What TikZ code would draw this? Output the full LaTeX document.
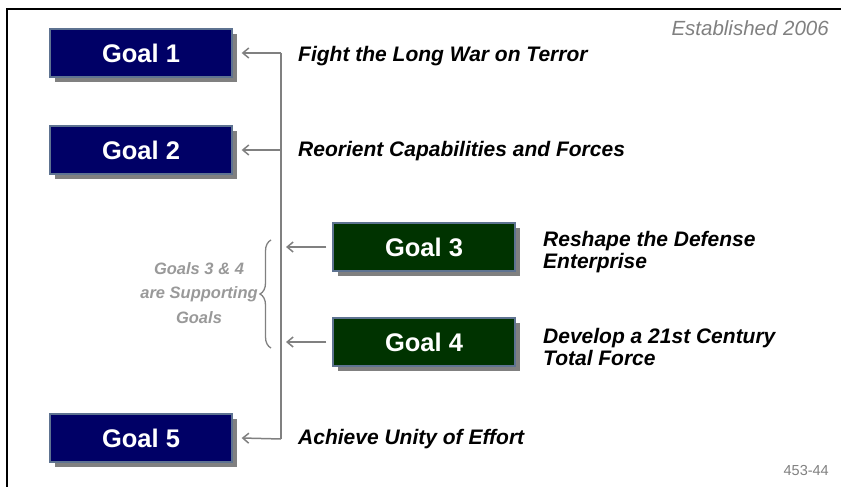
\documentclass[tikz,border=0pt]{standalone}
\usepackage{fontspec}
\setmainfont{Liberation Sans}
\usetikzlibrary{shadows,arrows.meta,decorations.pathreplacing}
\definecolor{navybox}{HTML}{000066}
\definecolor{greenbox}{HTML}{003300}
\definecolor{boxedge}{HTML}{5E7391}
\definecolor{conn}{HTML}{808080}
\definecolor{lightgray}{HTML}{999999}
\tikzset{
  goalbox/.style={minimum width=182pt, minimum height=48pt, inner sep=0pt,
    draw=boxedge, line width=1.3pt, text=white,
    font=\fontsize{25.5}{28}\selectfont\bfseries,
    general shadow={fill=conn, shadow xshift=5pt, shadow yshift=-5pt}},
  bluegoal/.style={goalbox, fill=navybox},
  greengoal/.style={goalbox, fill=greenbox},
  label/.style={anchor=west, align=left, inner sep=0pt,
    font=\fontsize{21}{21.5}\selectfont\bfseries\itshape},
  arr/.style={draw=conn, line width=1.5pt, -{Straight Barb[length=6pt,width=10pt]}},
  spine/.style={draw=conn, line width=1.5pt},
}
\begin{document}
\begin{tikzpicture}[x=1pt,y=-1pt]
\useasboundingbox (0,0) rectangle (841,487);
% frame
\draw[line width=2pt] (7,500) -- (7,9) -- (860,9);
% goal boxes
\node[bluegoal] (g1) at (141,53) {Goal 1};
\node[bluegoal] (g2) at (141,150) {Goal 2};
\node[greengoal] (g3) at (424,247) {Goal 3};
\node[greengoal] (g4) at (424,342) {Goal 4};
\node[bluegoal] (g5) at (141,438) {Goal 5};
% spine
\coordinate (st) at (281,53);
\coordinate (sb) at (281,439);
\draw[spine] (st) -- (sb);
\coordinate (s2) at (281,150);
\coordinate (s3) at (281,247);
\coordinate (s4) at (281,342);
\draw[arr] (st) -- ([xshift=9pt]g1.east);
\draw[arr] (s2) -- ([xshift=9pt]g2.east);
\draw[arr] (sb) -- ([xshift=9pt]g5.east);
\draw[arr] ([xshift=-6pt]g3.west) -- ([xshift=5pt]s3);
\draw[arr] ([xshift=-6pt]g4.west) -- ([xshift=5pt]s4);
% brace
\coordinate (bb) at (271,348);
\coordinate (bt) at (271,240);
\draw[conn, line width=1.3pt, decorate, decoration={brace, amplitude=11pt}] (bb) -- (bt);
\node[text=lightgray, align=center, inner sep=0pt,
  font=\fontsize{16.5}{24.5}\selectfont\bfseries\itshape] (sup) at (199,293)
  {Goals 3 \& 4\\are Supporting\\Goals};
% labels
\node[label] (l1) at (298,56) {Fight the Long War on Terror};
\node[label] (l2) at (298,151) {Reorient Capabilities and Forces};
\node[label] (l3) at (543,252) {Reshape the Defense\\Enterprise};
\node[label] (l4) at (543,347) {Develop a 21st Century\\Total Force};
\node[label] (l5) at (298,439) {Achieve Unity of Effort};
% corner notes
\node[anchor=east, inner sep=0pt, text=conn, font=\fontsize{20.5}{22}\selectfont\itshape] (est) at (829,28) {Established 2006};
\node[anchor=east, inner sep=0pt, text=conn, font=\fontsize{14.5}{16}\selectfont] (num) at (829,471) {453-44};
\end{tikzpicture}
\end{document}
